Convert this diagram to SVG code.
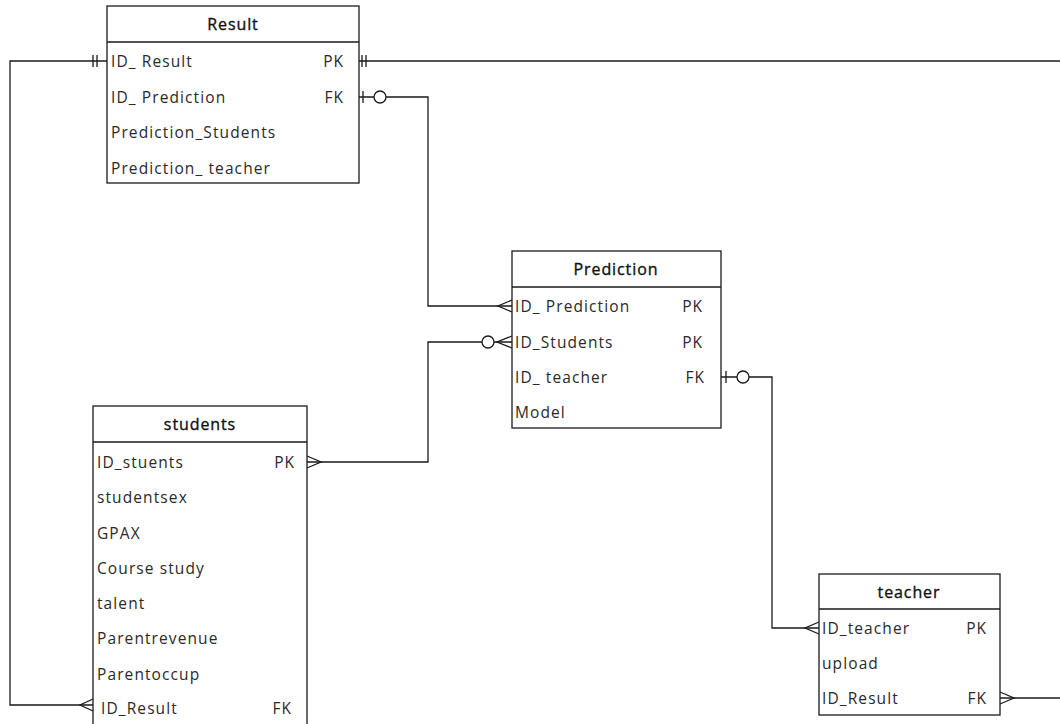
<svg xmlns="http://www.w3.org/2000/svg" width="1060" height="724" viewBox="0 0 1060 724">
  <style>
    .box { fill: #ffffff; stroke: #1a1a1a; stroke-width: 1.3; }
    .sep { stroke: #1a1a1a; stroke-width: 1.3; }
    .title { font-family: "Open Sans", "Noto Sans", sans-serif; font-size: 16px; fill: #111111; stroke: #111111; stroke-width: 0.35px; text-anchor: middle; letter-spacing: 0.9px; }
    .attr { font-family: "Open Sans", "Noto Sans", sans-serif; font-size: 15.5px; fill: #2a2a2a; letter-spacing: 1.1px; }
    .key { font-family: "Open Sans", "Noto Sans", sans-serif; font-size: 15.5px; fill: #2a2a2a; text-anchor: end; letter-spacing: 1px; }
    .link { fill: none; stroke: #1a1a1a; stroke-width: 1.3; }
    .ring { fill: #ffffff; stroke: #1a1a1a; stroke-width: 1.3; }
  </style>

  <!-- relationship lines and their end symbols -->
  <g id="connectors">
    <!-- Result.ID_Result (1) to students.ID_Result (many) -->
    <polyline class="link" points="107,61 10,61 10,705 93,705"/>
    <path class="link" d="M93,55 V67 M97,55 V67"/>
    <path class="link" d="M93,699 L80,705 L93,711"/>

    <!-- Result.ID_Result (1) heading off to the right -->
    <line class="link" x1="359" y1="61" x2="1060" y2="61"/>
    <path class="link" d="M362,55 V67 M366,55 V67"/>

    <!-- Result.ID_Prediction (0..1) to Prediction.ID_Prediction (many) -->
    <polyline class="link" points="359,97 428,97 428,306 512,306"/>
    <line class="link" x1="363" y1="91" x2="363" y2="103"/>
    <circle class="ring" cx="380" cy="97" r="6"/>
    <path class="link" d="M512,300 L498,306 L512,312"/>

    <!-- students.ID_stuents (many) to Prediction.ID_Students (0..many) -->
    <polyline class="link" points="307,462 428,462 428,342 512,342"/>
    <path class="link" d="M307,456 L321,462 L307,468"/>
    <path class="link" d="M512,336 L497,342 L512,348"/>
    <circle class="ring" cx="488" cy="342" r="6"/>

    <!-- Prediction.ID_teacher (0..1) to teacher.ID_teacher (many) -->
    <polyline class="link" points="721,377 772,377 772,628 819,628"/>
    <line class="link" x1="726" y1="371" x2="726" y2="383"/>
    <circle class="ring" cx="743" cy="377" r="6"/>
    <path class="link" d="M819,622 L805,628 L819,634"/>

    <!-- teacher.ID_Result (many) heading off to the right -->
    <line class="link" x1="1000" y1="698" x2="1060" y2="698"/>
    <path class="link" d="M1000,692 L1014,698 L1000,704"/>
  </g>

  <!-- Result table -->
  <g id="result">
    <rect class="box" x="107" y="6" width="252" height="177"/>
    <line class="sep" x1="107" y1="42" x2="359" y2="42"/>
    <text class="title" x="233" y="30">Result</text>
    <text class="attr" x="111" y="67">ID_ Result</text>
    <text class="key" x="344" y="67">PK</text>
    <text class="attr" x="111" y="103">ID_ Prediction</text>
    <text class="key" x="344" y="103">FK</text>
    <text class="attr" x="111" y="138">Prediction_Students</text>
    <text class="attr" x="111" y="174">Prediction_ teacher</text>
  </g>

  <!-- Prediction table -->
  <g id="prediction">
    <rect class="box" x="512" y="251" width="209" height="177"/>
    <line class="sep" x1="512" y1="287" x2="721" y2="287"/>
    <text class="title" x="616" y="275">Prediction</text>
    <text class="attr" x="515" y="312">ID_ Prediction</text>
    <text class="key" x="703" y="312">PK</text>
    <text class="attr" x="515" y="348">ID_Students</text>
    <text class="key" x="703" y="348">PK</text>
    <text class="attr" x="515" y="383">ID_ teacher</text>
    <text class="key" x="705" y="383">FK</text>
    <text class="attr" x="515" y="418">Model</text>
  </g>

  <!-- students table -->
  <g id="students">
    <rect class="box" x="93" y="406" width="214" height="340"/>
    <line class="sep" x1="93" y1="442" x2="307" y2="442"/>
    <text class="title" x="200" y="430">students</text>
    <text class="attr" x="97" y="468">ID_stuents</text>
    <text class="key" x="295" y="468">PK</text>
    <text class="attr" x="97" y="503">studentsex</text>
    <text class="attr" x="97" y="539">GPAX</text>
    <text class="attr" x="97" y="574">Course study</text>
    <text class="attr" x="97" y="609">talent</text>
    <text class="attr" x="97" y="644">Parentrevenue</text>
    <text class="attr" x="97" y="680">Parentoccup</text>
    <text class="attr" x="101" y="714">ID_Result</text>
    <text class="key" x="292" y="714">FK</text>
  </g>

  <!-- teacher table -->
  <g id="teacher">
    <rect class="box" x="819" y="574" width="181" height="141"/>
    <line class="sep" x1="819" y1="609" x2="1000" y2="609"/>
    <text class="title" x="909" y="598">teacher</text>
    <text class="attr" x="822" y="634">ID_teacher</text>
    <text class="key" x="987" y="634">PK</text>
    <text class="attr" x="822" y="669">upload</text>
    <text class="attr" x="822" y="704">ID_Result</text>
    <text class="key" x="987" y="704">FK</text>
  </g>
</svg>
